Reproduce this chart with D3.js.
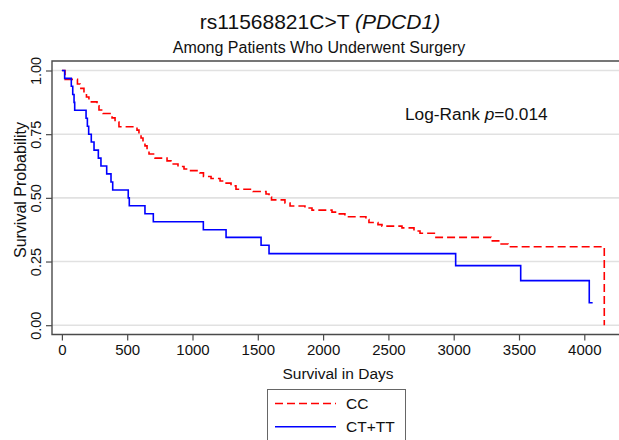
<!DOCTYPE html>
<html>
<head>
<meta charset="utf-8">
<script src="https://cdn.jsdelivr.net/npm/d3@7"></script>
<style>
  html, body { margin: 0; padding: 0; background: #fff; }
  svg { display: block; font-family: "Liberation Sans", Arial, sans-serif; }
</style>
</head>
<body>
<svg id="chart" width="619" height="440"></svg>
<script>
// ---- data ----
const xTicks = [0, 500, 1000, 1500, 2000, 2500, 3000, 3500, 4000];
const yTicks = [0, 0.25, 0.5, 0.75, 1];

// CC group (red dashed): event days and survival after each step
const ccDays = [24, 119, 139, 169, 188, 207, 269, 284, 315, 384, 407, 437, 575, 590, 606, 621, 636, 652, 667, 713,
  805, 835, 889, 935, 965, 1057, 1084, 1142, 1211, 1241, 1295, 1333, 1463, 1563, 1586, 1605, 1708, 1747, 1861, 1915,
  2068, 2106, 2167, 2328, 2351, 2420, 2451, 2604, 2696, 2742, 2864, 3286, 3363, 3416, 4153];
const ccSurv = [0.965, 0.947, 0.930, 0.912, 0.896, 0.877, 0.861, 0.845, 0.831, 0.814, 0.798, 0.779, 0.766, 0.751, 0.735, 0.719, 0.704, 0.688, 0.672, 0.656,
  0.645, 0.633, 0.623, 0.613, 0.607, 0.598, 0.584, 0.576, 0.566, 0.558, 0.547, 0.534, 0.525, 0.515, 0.503, 0.492, 0.480, 0.468, 0.460, 0.452,
  0.444, 0.437, 0.426, 0.415, 0.403, 0.395, 0.389, 0.382, 0.370, 0.361, 0.345, 0.331, 0.319, 0.308, 0.0];
const ccEnd = 4153;

// CT+TT group (blue solid)
const ctDays = [21, 72, 83, 93, 98, 185, 195, 205, 225, 246, 279, 299, 343, 376, 389, 508, 516, 636, 700, 1083,
  1257, 1525, 1586, 3015, 3513, 4038];
const ctSurv = [0.969, 0.938, 0.906, 0.875, 0.844, 0.8125, 0.781, 0.75, 0.719, 0.6875, 0.656, 0.625, 0.594, 0.5625, 0.531, 0.5, 0.469, 0.4375, 0.406, 0.375,
  0.345, 0.314, 0.281, 0.234, 0.175, 0.088];
const ctEnd = 4064;

const groups = ["CC", "CT+TT"];
const colors = ["#ff0000", "#0000ff"];

// ---- drawing ----
const svg = d3.select("#chart");
const frameL = 52, frameT = 61, frameB = 334.5, frameR = 625;

const x = d3.scaleLinear().domain([0, 4000]).range([61.9, 584.3]);
const y = d3.scaleLinear().domain([0, 1]).range([325.2, 70.5]);

// gridlines
svg.append("g").selectAll("line").data(yTicks).join("line")
  .attr("x1", frameL).attr("x2", frameR)
  .attr("y1", d => y(d)).attr("y2", d => y(d))
  .attr("stroke", "#e1e1e1").attr("stroke-width", 1.6);

// frame (left, top, bottom)
svg.append("path")
  .attr("d", `M${frameR},${frameT}H${frameL}V${frameB}H${frameR}`)
  .attr("fill", "none").attr("stroke", "#4a4a4a").attr("stroke-width", 1.4);

// y axis
const yAxis = svg.append("g").attr("transform", `translate(${frameL},0)`)
  .call(d3.axisLeft(y).tickValues(yTicks).tickFormat(d3.format(".2f")).tickSize(6).tickSizeOuter(0));
yAxis.select(".domain").remove();
yAxis.selectAll(".tick line").attr("stroke", "#4a4a4a").attr("stroke-width", 1.2);
yAxis.selectAll(".tick text")
  .attr("x", 0).attr("dy", 0)
  .attr("transform", "translate(-11.5,0) rotate(-90)")
  .attr("text-anchor", "middle")
  .attr("font-size", 14.5).attr("fill", "#111")
  .attr("font-family", "Liberation Sans, Arial, sans-serif");

// x axis
const xAxis = svg.append("g").attr("transform", `translate(0,${frameB})`)
  .call(d3.axisBottom(x).tickValues(xTicks).tickFormat(d3.format("d")).tickSize(6).tickSizeOuter(0));
xAxis.select(".domain").remove();
xAxis.selectAll(".tick line").attr("stroke", "#4a4a4a").attr("stroke-width", 1.2);
xAxis.selectAll(".tick text")
  .attr("y", 10).attr("dy", "0.71em")
  .attr("font-size", 15).attr("fill", "#111")
  .attr("font-family", "Liberation Sans, Arial, sans-serif");

// axis titles
svg.append("text").attr("x", 338).attr("y", 379)
  .attr("text-anchor", "middle").attr("font-size", 15.5).attr("fill", "#111")
  .text("Survival in Days");
svg.append("text")
  .attr("transform", `translate(26,190) rotate(-90)`)
  .attr("text-anchor", "middle").attr("font-size", 16).attr("fill", "#111")
  .text("Survival Probability");

// titles
const title = svg.append("text").attr("x", 320).attr("y", 29)
  .attr("text-anchor", "middle").attr("font-size", 21).attr("fill", "#111");
title.append("tspan").text("rs11568821C>T ");
title.append("tspan").attr("font-style", "italic").text("(PDCD1)");
svg.append("text").attr("x", 319).attr("y", 53)
  .attr("text-anchor", "middle").attr("font-size", 16).attr("fill", "#111")
  .text("Among Patients Who Underwent Surgery");

// log-rank annotation
const lr = svg.append("text").attr("x", 405).attr("y", 119.5)
  .attr("font-size", 17.3).attr("fill", "#111");
lr.append("tspan").text("Log-Rank ");
lr.append("tspan").attr("font-style", "italic").text("p");
lr.append("tspan").text("=0.014");

// curves
function kmPoints(days, surv, end) {
  const pts = [[0, 1]];
  days.forEach((d, i) => pts.push([d, surv[i]]));
  if (end > days[days.length - 1]) pts.push([end, surv[surv.length - 1]]);
  return pts;
}
const line = d3.line().x(d => x(d[0])).y(d => y(d[1])).curve(d3.curveStepAfter);

svg.append("path").datum(kmPoints(ccDays, ccSurv, ccEnd))
  .attr("d", line).attr("fill", "none")
  .attr("stroke", colors[0]).attr("stroke-width", 1.6)
  .attr("stroke-dasharray", "8,4");
svg.append("path").datum(kmPoints(ctDays, ctSurv, ctEnd))
  .attr("d", line).attr("fill", "none")
  .attr("stroke", colors[1]).attr("stroke-width", 1.6);

// legend
const lg = svg.append("g");
lg.append("rect").attr("x", 267.5).attr("y", 389.5).attr("width", 138).attr("height", 60)
  .attr("fill", "#fff").attr("stroke", "#666").attr("stroke-width", 1);
groups.forEach((g, i) => {
  const ly = 403.5 + i * 23.3;
  lg.append("line").attr("x1", 275).attr("x2", 336).attr("y1", ly).attr("y2", ly)
    .attr("stroke", colors[i]).attr("stroke-width", 1.6)
    .attr("stroke-dasharray", i === 0 ? "8,4" : null);
  lg.append("text").attr("x", 346).attr("y", ly).attr("dy", "0.35em")
    .attr("font-size", 15.5).attr("fill", "#111").text(g);
});
</script>
</body>
</html>
